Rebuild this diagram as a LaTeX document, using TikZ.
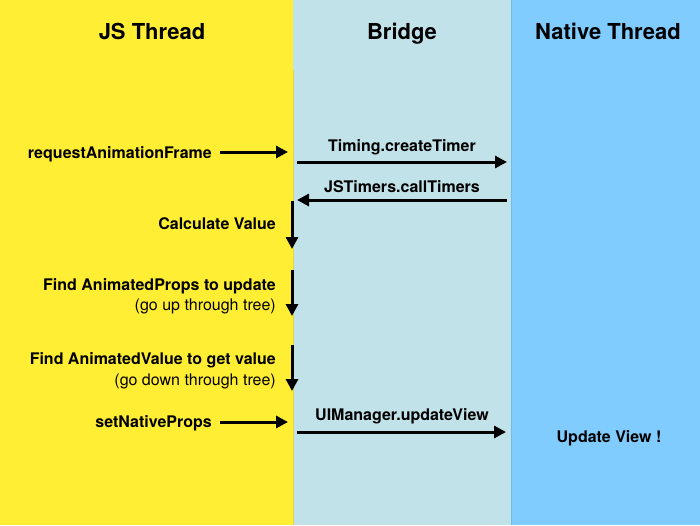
\documentclass[tikz,border=0pt]{standalone}
\usepackage{fontspec}
\setmainfont{TeX Gyre Heros}
\usetikzlibrary{arrows.meta}
\definecolor{jsyellow}{RGB}{255,238,51}
\definecolor{bridgeblue}{RGB}{194,226,234}
\definecolor{nativeblue}{RGB}{128,204,255}
\definecolor{nativeedge}{RGB}{108,190,240}
\definecolor{yellowedge}{RGB}{222,214,80}
\begin{document}
\begin{tikzpicture}[x=1pt,y=-1pt,
  header/.style={font=\fontsize{22}{26}\selectfont\bfseries, anchor=base, inner sep=0pt},
  lbl/.style={font=\fontsize{16}{19}\selectfont\bfseries, inner sep=0pt},
  sub/.style={font=\fontsize{16}{19}\selectfont, inner sep=0pt},
  flow/.style={line width=3pt, -{Triangle[length=12pt,width=12pt]}}]
\useasboundingbox (0,0) rectangle (700,525);
\fill[jsyellow] (0,0) rectangle (293,525);
\fill[bridgeblue] (293,0) rectangle (511,525);
\fill[nativeblue] (511,0) rectangle (700,525);
\draw[nativeedge, line width=1.2pt] (511.5,0) -- (511.5,525);
\draw[yellowedge, line width=0.8pt] (293,70) -- (293,525);
% headers
\node[header] (hjs) at (152,39.5) {JS Thread};
\node[header] (hbr) at (402,39.5) {Bridge};
\node[header] (hnt) at (608,39.5) {Native Thread};
% labels
\node[lbl, anchor=base east] (raf) at (212,158) {requestAnimationFrame};
\node[lbl, anchor=base] (timing) at (402,151) {Timing.createTimer};
\node[lbl, anchor=base] (jst) at (402,192) {JSTimers.callTimers};
\node[lbl, anchor=base east] (calc) at (276,229) {Calculate Value};
\node[lbl, anchor=base east] (fprops) at (276,290) {Find AnimatedProps to update};
\node[sub, anchor=base east] (fpropsub) at (276,310) {(go up through tree)};
\node[lbl, anchor=base east] (fval) at (276,364) {Find AnimatedValue to get value};
\node[sub, anchor=base east] (fvalsub) at (276,385) {(go down through tree)};
\node[lbl, anchor=base east] (snp) at (212,427) {setNativeProps};
\node[lbl, anchor=base] (uim) at (402,420) {UIManager.updateView};
\node[lbl, anchor=base] (upd) at (609,442) {Update View !};
% coordinates
\coordinate (a1s) at (220,152); \coordinate (a1e) at (288,152);
\coordinate (a2s) at (297,162); \coordinate (a2e) at (507,162);
\coordinate (a3s) at (507,200); \coordinate (a3e) at (297,200);
\coordinate (a4s) at (292,201); \coordinate (a4e) at (292,249);
\coordinate (a5s) at (292,270); \coordinate (a5e) at (292,316);
\coordinate (a6s) at (292,345); \coordinate (a6e) at (292,391);
\coordinate (a7s) at (220,422); \coordinate (a7e) at (288,422);
\coordinate (a8s) at (297,432); \coordinate (a8e) at (506,432);
\draw[flow] (a1s) -- (a1e);
\draw[flow] (a2s) -- (a2e);
\draw[flow] (a3s) -- (a3e);
\draw[flow] (a4s) -- (a4e);
\draw[flow] (a5s) -- (a5e);
\draw[flow] (a6s) -- (a6e);
\draw[flow] (a7s) -- (a7e);
\draw[flow] (a8s) -- (a8e);
\end{tikzpicture}
\end{document}
